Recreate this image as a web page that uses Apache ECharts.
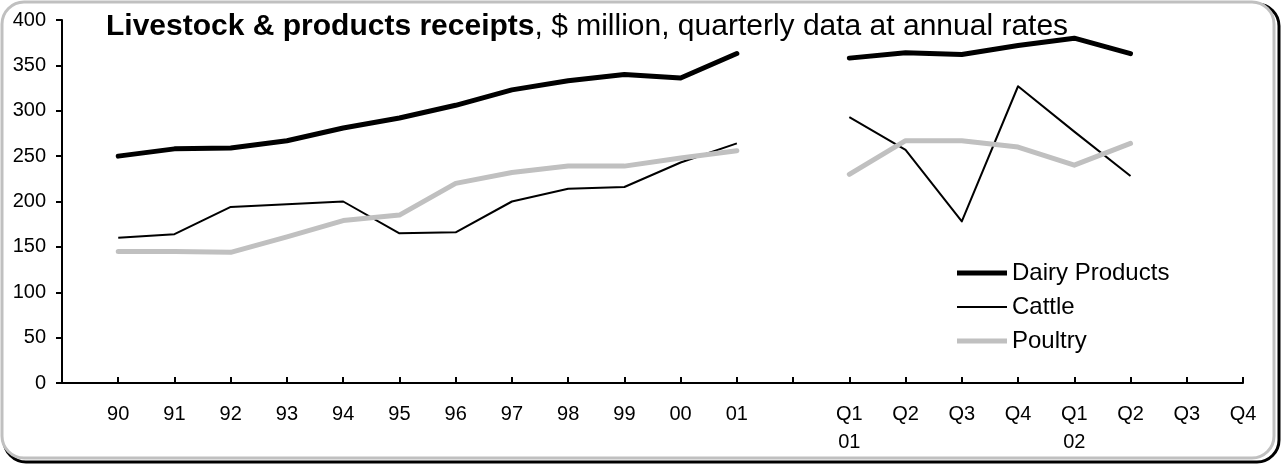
<!DOCTYPE html>
<html>
<head>
<meta charset="utf-8">
<script src="https://cdn.jsdelivr.net/npm/echarts@6/dist/echarts.min.js"></script>
<style>
  html, body { margin: 0; padding: 0; background: #ffffff; }
  #chart { width: 1282px; height: 465px; }
</style>
</head>
<body>
<div id="chart"></div>
<script>
// Annual receipts, 1990-2001
const years = ['90', '91', '92', '93', '94', '95', '96', '97', '98', '99', '00', '01'];
const dairyAnnual   = [250, 258, 259, 267, 281, 292, 306, 323, 333, 340, 336, 363];
const cattleAnnual  = [160, 164, 194, 197, 200, 165, 166, 200, 214, 216, 243, 264];
const poultryAnnual = [145, 145, 144, 161, 179, 185, 220, 232, 239, 239, 248, 256];

// Quarterly receipts at annual rates, Q1 2001 - Q4 2002
const quarters = ['Q1\n01', 'Q2', 'Q3', 'Q4', 'Q1\n02', 'Q2', 'Q3', 'Q4'];
const dairyQuarterly   = [358, 364, 362, 372, 380, 363, null, null];
const cattleQuarterly  = [293, 257, 178, 327, 277, 228, null, null];
const poultryQuarterly = [230, 267, 267, 260, 240, 264, null, null];

const yTicks = { min: 0, max: 400, step: 50 };

// Category axis: leading blank slot, annual years, a blank gap, then quarters
const categories = [''].concat(years, [''], quarters);
function join(annual, quarterly) {
  return [null].concat(annual, [null], quarterly);
}

const font = '"Liberation Sans", Arial, sans-serif';
const chart = echarts.init(document.getElementById('chart'));

chart.setOption({
  animation: false,
  backgroundColor: '#ffffff',
  textStyle: { fontFamily: font },
  graphic: [
    {
      type: 'rect', z: -20, silent: true,
      shape: { x: 4, y: 4, width: 1275, height: 458, r: 22 },
      style: { fill: 'none', stroke: '#000000', lineWidth: 3 }
    },
    {
      type: 'rect', z: -10, silent: true,
      shape: { x: 2, y: 2, width: 1272, height: 456, r: 22 },
      style: { fill: '#ffffff', stroke: '#c0c0c0', lineWidth: 3 }
    }
  ],
  title: {
    left: 106, top: 12, padding: 0,
    text: '{b|Livestock & products receipts}{n|, $ million, quarterly data at annual rates}',
    textStyle: {
      fontFamily: font, fontSize: 30, fontWeight: 'normal', color: '#000',
      rich: {
        b: { fontFamily: font, fontSize: 30, fontWeight: 'bold', color: '#000' },
        n: { fontFamily: font, fontSize: 30, fontWeight: 'normal', color: '#000' }
      }
    }
  },
  legend: {
    orient: 'vertical',
    left: 957, top: 261, padding: 0,
    itemWidth: 50, itemHeight: 14, itemGap: 10,
    itemStyle: { borderWidth: 0 },
    textStyle: { fontFamily: font, fontSize: 24, color: '#000' },
    data: [
      { name: 'Dairy Products', icon: 'path://M0,0h50v5h-50z' },
      { name: 'Cattle', icon: 'path://M0,0h50v2h-50z' },
      { name: 'Poultry', icon: 'path://M0,0h50v5h-50z' }
    ]
  },
  grid: { left: 62, right: 39, top: 20, bottom: 82, containLabel: false },
  xAxis: {
    type: 'category',
    data: categories,
    boundaryGap: false,
    axisLine: { lineStyle: { color: '#000', width: 2 } },
    axisTick: { inside: true, length: 6, interval: 0, lineStyle: { color: '#000', width: 2 } },
    axisLabel: { interval: 0, margin: 17, color: '#000', fontSize: 20, fontFamily: font, lineHeight: 28 },
    splitLine: { show: false }
  },
  yAxis: {
    type: 'value',
    min: yTicks.min, max: yTicks.max, interval: yTicks.step,
    axisLine: { show: true, lineStyle: { color: '#000', width: 2 } },
    axisTick: { show: true, length: 6, lineStyle: { color: '#000', width: 2 } },
    axisLabel: { color: '#000', fontSize: 20, fontFamily: font, margin: 16 },
    splitLine: { show: false }
  },
  series: [
    {
      name: 'Dairy Products', type: 'line', symbol: 'none', connectNulls: false,
      data: join(dairyAnnual, dairyQuarterly),
      lineStyle: { color: '#000', width: 5, cap: 'round', join: 'round' },
      itemStyle: { color: '#000' }
    },
    {
      name: 'Cattle', type: 'line', symbol: 'none', connectNulls: false,
      data: join(cattleAnnual, cattleQuarterly),
      lineStyle: { color: '#000', width: 2, join: 'round' },
      itemStyle: { color: '#000' }
    },
    {
      name: 'Poultry', type: 'line', symbol: 'none', connectNulls: false,
      data: join(poultryAnnual, poultryQuarterly),
      lineStyle: { color: '#c0c0c0', width: 5, cap: 'round', join: 'round' },
      itemStyle: { color: '#c0c0c0' }
    }
  ]
});
</script>
</body>
</html>
